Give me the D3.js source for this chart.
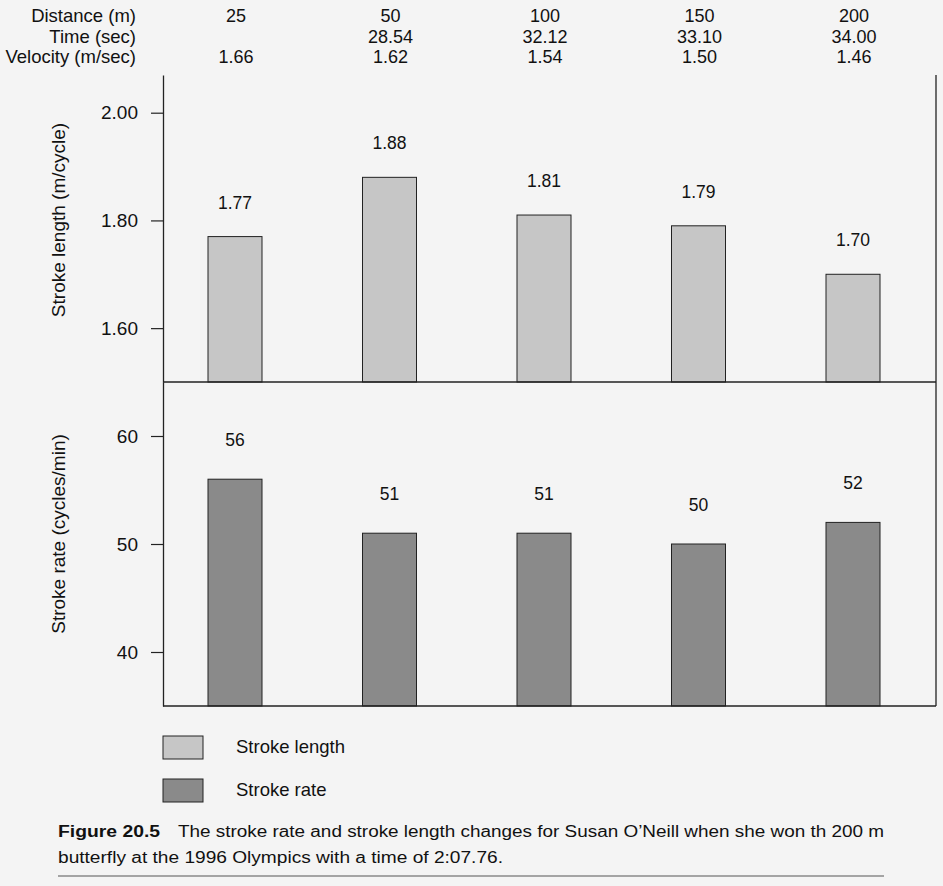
<!DOCTYPE html>
<html>
<head>
<meta charset="utf-8">
<script src="https://cdn.jsdelivr.net/npm/d3@7"></script>
<style>
  html, body { margin: 0; padding: 0; background: #f4f4f4; }
  svg { display: block; }
  text { font-family: "Liberation Sans", Arial, Helvetica, sans-serif; fill: #111; }
</style>
</head>
<body>
<svg id="chart" width="943" height="886"></svg>
<script>
// ---- data ----
const distances = ["25", "50", "100", "150", "200"];
const times = ["", "28.54", "32.12", "33.10", "34.00"];
const velocities = ["1.66", "1.62", "1.54", "1.50", "1.46"];
const strokeLength = [1.77, 1.88, 1.81, 1.79, 1.70];
const strokeRate = [56, 51, 51, 50, 52];
const lengthTicks = [1.60, 1.80, 2.00];
const rateTicks = [40, 50, 60];
const headerLabels = ["Distance (m)", "Time (sec)", "Velocity (m/sec)"];
const legendLabels = ["Stroke length", "Stroke rate"];
const captionBold = "Figure 20.5";
const captionLine1 = "The stroke rate and stroke length changes for Susan O\u2019Neill when she won th 200 m";
const captionLine2 = "butterfly at the 1996 Olympics with a time of 2:07.76.";

const colLight = "#c6c6c6", colDark = "#8a8a8a", ink = "#222";

const svg = d3.select("#chart");
svg.append("rect").attr("width", 943).attr("height", 886).attr("fill", "#f4f4f4");

const x = d3.scalePoint().domain(distances).range([235, 853]);
const barW = 54;
const left = 163, right = 936;
const yL = d3.scaleLinear().domain([1.5, 2.07]).range([382, 75]);
const yR = d3.scaleLinear().domain([35, 65]).range([706, 382]);

// ---- header rows ----
const rows = [distances, times, velocities];
const rowBase = [22, 43, 63];
rows.forEach((r, i) => {
  svg.append("text").attr("x", 136).attr("y", rowBase[i]).attr("text-anchor", "end")
    .style("font-size", "18.5px").text(headerLabels[i]);
  svg.selectAll(null).data(r).enter().append("text")
    .attr("x", (d, j) => x(distances[j]) + 1).attr("y", rowBase[i])
    .attr("text-anchor", "middle").style("font-size", "18px").text(d => d);
});

// ---- bars ----
function drawBars(data, y, fill, off, fmt) {
  svg.selectAll(null).data(data).enter().append("rect")
    .attr("x", (d, i) => x(distances[i]) - barW / 2)
    .attr("y", d => y(d))
    .attr("width", barW)
    .attr("height", d => y.range()[0] - y(d))
    .attr("fill", fill).attr("stroke", ink).attr("stroke-width", 1);
  svg.selectAll(null).data(data).enter().append("text")
    .attr("x", (d, i) => x(distances[i]))
    .attr("y", d => y(d) - off)
    .attr("text-anchor", "middle").style("font-size", "17.5px")
    .text(d => fmt(d));
}
drawBars(strokeLength, yL, colLight, 28, d3.format(".2f"));
drawBars(strokeRate, yR, colDark, 33, d3.format("d"));

// ---- axes ----
function axis(y, ticks, fmt) {
  const g = svg.append("g").attr("transform", `translate(${left},0)`)
    .call(d3.axisLeft(y).tickValues(ticks).tickFormat(fmt).tickSize(12).tickSizeOuter(0).tickPadding(13));
  g.select(".domain").attr("stroke", ink).attr("stroke-width", 1.3);
  g.selectAll(".tick line").attr("stroke", ink).attr("stroke-width", 1.2);
  g.selectAll(".tick text").style("font-size", "19px").style("font-family", '"Liberation Sans", Arial, sans-serif').attr("fill", "#111");
}
axis(yL, lengthTicks, d3.format(".2f"));
axis(yR, rateTicks, d3.format("d"));

// frame lines
svg.append("line").attr("x1", left).attr("x2", right).attr("y1", yL.range()[0]).attr("y2", yL.range()[0])
  .attr("stroke", ink).attr("stroke-width", 1.3);
svg.append("line").attr("x1", left).attr("x2", right).attr("y1", yR.range()[0]).attr("y2", yR.range()[0])
  .attr("stroke", ink).attr("stroke-width", 1.3);
svg.append("line").attr("x1", right).attr("x2", right).attr("y1", yL.range()[1]).attr("y2", yR.range()[0])
  .attr("stroke", ink).attr("stroke-width", 1.3);

// axis titles
svg.append("text").attr("transform", "translate(65,220) rotate(-90)").attr("text-anchor", "middle")
  .style("font-size", "19px").text("Stroke length (m/cycle)");
svg.append("text").attr("transform", "translate(65,534) rotate(-90)").attr("text-anchor", "middle")
  .style("font-size", "19px").text("Stroke rate (cycles/min)");

// ---- legend ----
const legY = [736, 779];
[colLight, colDark].forEach((c, i) => {
  svg.append("rect").attr("x", 163).attr("y", legY[i]).attr("width", 40).attr("height", 23)
    .attr("fill", c).attr("stroke", ink).attr("stroke-width", 1);
  svg.append("text").attr("x", 236).attr("y", legY[i] + 17).style("font-size", "18.5px").text(legendLabels[i]);
});

// ---- caption ----
const capFont = '"Liberation Sans Narrow", "Liberation Sans", Arial, sans-serif';
svg.append("text").attr("x", 58).attr("y", 837).style("font-family", capFont)
  .style("font-size", "16px").style("font-weight", "bold")
  .attr("textLength", 102).attr("lengthAdjust", "spacingAndGlyphs").text(captionBold);
svg.append("text").attr("x", 178).attr("y", 837).style("font-family", capFont)
  .style("font-size", "16px").attr("textLength", 706).attr("lengthAdjust", "spacingAndGlyphs").text(captionLine1);
svg.append("text").attr("x", 58).attr("y", 863).style("font-family", capFont)
  .style("font-size", "16px").attr("textLength", 445).attr("lengthAdjust", "spacingAndGlyphs").text(captionLine2);
svg.append("line").attr("x1", 58).attr("x2", 884).attr("y1", 876).attr("y2", 876)
  .attr("stroke", "#555").attr("stroke-width", 1.2);
</script>
</body>
</html>
